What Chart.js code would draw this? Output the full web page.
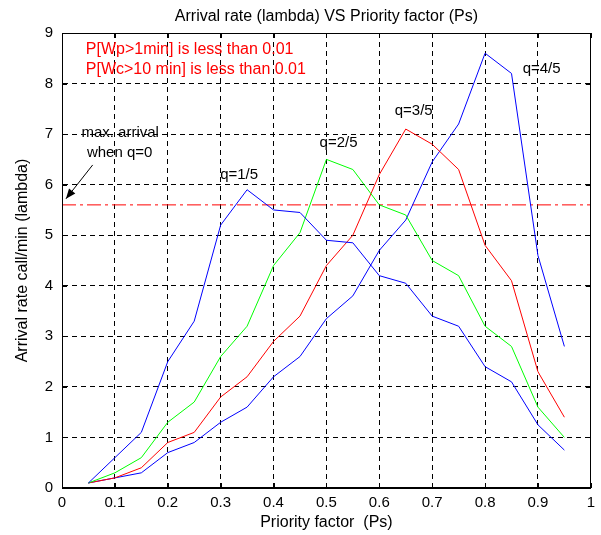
<!DOCTYPE html>
<html><head><meta charset="utf-8">
<script src="https://cdn.jsdelivr.net/npm/chart.js@4.4.1/dist/chart.umd.min.js"></script>
<style>html,body{margin:0;padding:0;background:#fff;}</style>
</head><body>
<canvas id="c" width="601" height="535" style="display:block;width:601px;height:535px"></canvas>
<script>
// ---- data ----
const priorityFactor = [0.05,0.10,0.15,0.20,0.25,0.30,0.35,0.40,0.45,0.50,0.55,0.60,0.65,0.70,0.75,0.80,0.85,0.90,0.95];
const rateQ1 = [0.1,0.6,1.1,2.5,3.3,5.2,5.9,5.5,5.45,4.9,4.85,4.2,4.05,3.4,3.2,2.4,2.1,1.25,0.75];   // q=1/5
const rateQ2 = [0.1,0.3,0.6,1.3,1.7,2.6,3.2,4.4,5.05,6.5,6.3,5.6,5.4,4.5,4.2,3.2,2.8,1.6,1.0];    // q=2/5
const rateQ3 = [0.1,0.2,0.4,0.9,1.1,1.8,2.2,2.9,3.4,4.4,5.0,6.2,7.1,6.8,6.3,4.8,4.1,2.3,1.4];     // q=3/5
const rateQ4 = [0.1,0.2,0.3,0.7,0.9,1.3,1.6,2.2,2.6,3.35,3.8,4.7,5.3,6.45,7.2,8.6,8.2,4.6,2.8];   // q=4/5
const maxArrivalQ0 = 5.6;
const xTicks = [0,0.1,0.2,0.3,0.4,0.5,0.6,0.7,0.8,0.9,1];
const xTickLabels = ["0","0.1","0.2","0.3","0.4","0.5","0.6","0.7","0.8","0.9","1"];
const yTicks = [0,1,2,3,4,5,6,7,8,9];
const yTickLabels = ["0","1","2","3","4","5","6","7","8","9"];
const titleText = "Arrival rate (lambda) VS Priority factor (Ps)";
const xLabel = "Priority factor  (Ps)";
const yLabel = "Arrival rate call/min (lambda)";
const curveLabels = [
  {text:"q=1/5", x:0.335, y:6.19},
  {text:"q=2/5", x:0.523, y:6.83},
  {text:"q=3/5", x:0.665, y:7.46},
  {text:"q=4/5", x:0.907, y:8.30}
];
const noteLines = [
  {text:"P[Wp>1min] is less than 0.01", x:0.045, y:8.68},
  {text:"P[Wc>10 min] is less than 0.01", x:0.045, y:8.27}
];
const maxNote = [
  {text:"max. arrival", x:0.110, y:7.02},
  {text:"when q=0", x:0.109, y:6.63}
];
const arrowFrom = {x:0.058, y:6.39};
const arrowTo = {x:0.0075, y:5.72};

const FONT = '"Liberation Sans", Arial, sans-serif';
const pts = ys => priorityFactor.map((x,i)=>({x:x, y:ys[i]}));

const decor = {
  id:'decor',
  afterDraw(chart){
    const ctx = chart.ctx, a = chart.chartArea;
    const xs = chart.scales.x, ys = chart.scales.y;
    ctx.save();
    // box
    ctx.strokeStyle = '#000'; ctx.lineWidth = 1; ctx.setLineDash([]);
    ctx.strokeRect(Math.round(a.left)+0.5, Math.round(a.top)+0.5, Math.round(a.right-a.left)-1, Math.round(a.bottom-a.top)-1);
    // inward tick marks
    ctx.beginPath();
    xTicks.forEach(v=>{
      const px = Math.round(xs.getPixelForValue(v))+0.5;
      ctx.moveTo(px, a.bottom); ctx.lineTo(px, a.bottom-5);
      ctx.moveTo(px, a.top); ctx.lineTo(px, a.top+5);
    });
    yTicks.forEach(v=>{
      const py = Math.round(ys.getPixelForValue(v))+0.5;
      ctx.moveTo(a.left, py); ctx.lineTo(a.left+5, py);
      ctx.moveTo(a.right, py); ctx.lineTo(a.right-5, py);
    });
    ctx.stroke();
    // title & axis labels
    ctx.fillStyle = '#000';
    ctx.font = '16px ' + FONT;
    ctx.textAlign = 'center'; ctx.textBaseline = 'alphabetic';
    ctx.fillText(titleText, (a.left+a.right)/2, 21);
    ctx.fillText(xLabel, (a.left+a.right)/2, 527);
    ctx.save();
    ctx.translate(27, (a.top+a.bottom)/2);
    ctx.rotate(-Math.PI/2);
    ctx.fillText(yLabel, 0, 0);
    ctx.restore();
    // curve labels
    ctx.font = '15px ' + FONT;
    ctx.textBaseline = 'middle'; ctx.textAlign = 'center';
    curveLabels.concat(maxNote).forEach(l=>{
      ctx.fillText(l.text, xs.getPixelForValue(l.x), ys.getPixelForValue(l.y));
    });
    // red notes
    ctx.fillStyle = '#ff0000';
    ctx.font = '16px ' + FONT;
    ctx.textAlign = 'left';
    noteLines.forEach(l=>{
      ctx.fillText(l.text, xs.getPixelForValue(l.x), ys.getPixelForValue(l.y));
    });
    // arrow
    const x1 = xs.getPixelForValue(arrowFrom.x), y1 = ys.getPixelForValue(arrowFrom.y);
    const x2 = xs.getPixelForValue(arrowTo.x), y2 = ys.getPixelForValue(arrowTo.y);
    ctx.strokeStyle = '#000'; ctx.fillStyle = '#000';
    ctx.beginPath(); ctx.moveTo(x1,y1); ctx.lineTo(x2,y2); ctx.stroke();
    const ang = Math.atan2(y2-y1, x2-x1), L = 10, W = 4;
    const bx = x2 - L*Math.cos(ang), by = y2 - L*Math.sin(ang);
    ctx.beginPath();
    ctx.moveTo(x2,y2);
    ctx.lineTo(bx + W*Math.sin(ang), by - W*Math.cos(ang));
    ctx.lineTo(bx - W*Math.sin(ang), by + W*Math.cos(ang));
    ctx.closePath(); ctx.fill();
    ctx.restore();
  }
};

const lineDs = (data, color) => ({data, borderColor:color, backgroundColor:color, borderWidth:1, pointRadius:0, tension:0, fill:false});

new Chart(document.getElementById('c'), {
  type:'line',
  data:{datasets:[
    lineDs(pts(rateQ1), '#0000ff'),
    lineDs(pts(rateQ2), '#00ff00'),
    lineDs(pts(rateQ3), '#ff0000'),
    lineDs(pts(rateQ4), '#0000ff'),
    Object.assign(lineDs([{x:0,y:maxArrivalQ0},{x:1,y:maxArrivalQ0}], '#ff0000'), {borderDash:[14,4,3,4]})
  ]},
  options:{
    responsive:false, animation:false, devicePixelRatio:1,
    layout:{padding:{top:33, right:8, left:0, bottom:0}},
    plugins:{legend:{display:false}, title:{display:false}, tooltip:{enabled:false}},
    scales:{
      x:{type:'linear', min:0, max:1,
        afterBuildTicks(s){ s.ticks = xTicks.map(v=>({value:v})); },
        afterFit(s){ s.height = 47; },
        grid:{color:'#000', lineWidth:1, drawTicks:false},
        border:{display:true, color:'#000', width:1, dash:[5,4]},
        ticks:{color:'#000', font:{family:FONT, size:15}, padding:6, maxRotation:0, autoSkip:false,
          callback:(v,i)=>xTickLabels[i]}
      },
      y:{type:'linear', min:0, max:9,
        afterBuildTicks(s){ s.ticks = yTicks.map(v=>({value:v})); },
        afterFit(s){ s.width = 62; },
        grid:{color:'#000', lineWidth:1, drawTicks:false},
        border:{display:true, color:'#000', width:1, dash:[5,4]},
        ticks:{color:'#000', font:{family:FONT, size:15}, padding:9, autoSkip:false,
          callback:(v,i)=>yTickLabels[i]}
      }
    }
  },
  plugins:[decor]
});
</script>
</body></html>
